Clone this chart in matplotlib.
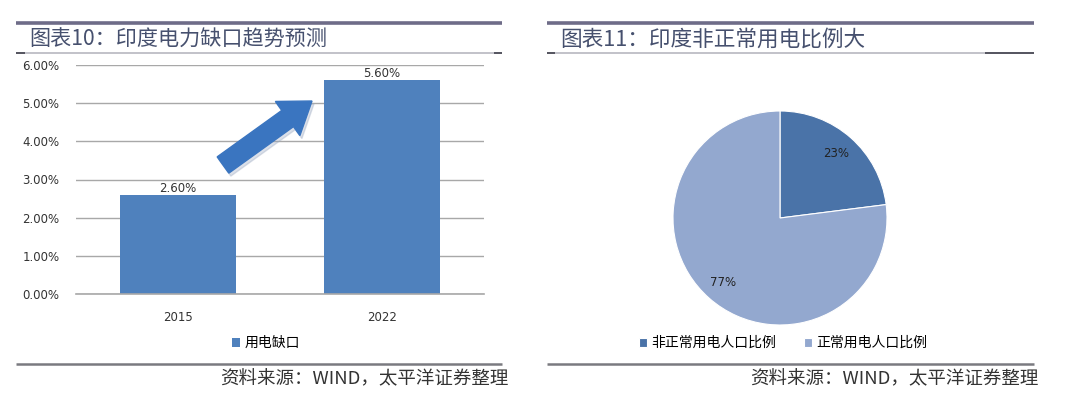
import matplotlib
matplotlib.use("Agg")
import matplotlib.pyplot as plt
from matplotlib.lines import Line2D
from matplotlib.patches import FancyArrow
from matplotlib.transforms import IdentityTransform

plt.rcParams['font.family'] = ['Noto Sans CJK SC', 'DejaVu Sans']

# ---- data ----
bar_categories = ["2015", "2022"]
bar_values = [2.60, 5.60]
bar_series_name = "用电缺口"
y_ticks = [0, 1, 2, 3, 4, 5, 6]

pie_labels = ["非正常用电人口比例", "正常用电人口比例"]
pie_values = [23, 77]

title_left = "图表10：印度电力缺口趋势预测"
title_right = "图表11：印度非正常用电比例大"
source_text = "资料来源：WIND，太平洋证券整理"

W, H = 1080, 398
fig = plt.figure(figsize=(W / 100, H / 100), dpi=100)
fig.patch.set_facecolor("white")

def fx(px):
    return px / W

def fy(py):
    return 1 - py / H

def hline(x0, x1, y, color, lw):
    fig.add_artist(Line2D([fx(x0), fx(x1)], [fy(y), fy(y)], color=color, lw=lw,
                          transform=fig.transFigure, solid_capstyle="butt"))

# ---- frame lines ----
for (x0, x1) in [(16, 502), (547, 1034)]:
    hline(x0, x1, 23, "#6e6c88", 2.6)
    hline(x0, x1, 53, "#b8b8c0", 1.2)
    hline(x0, x1, 364, "#7a7a80", 1.8)
hline(16, 25, 53, "#555560", 1.4)
hline(494, 502, 53, "#555560", 1.4)
hline(547, 555, 53, "#555560", 1.4)
hline(985, 1034, 53, "#555560", 1.4)

title_color = "#46506e"
fig.text(fx(29), fy(40), title_left, fontsize=15.2, color=title_color, va="center", ha="left")
fig.text(fx(560), fy(40), title_right, fontsize=15.6, color=title_color, va="center", ha="left")
fig.text(fx(508), fy(379), source_text, fontsize=13.3, color="#333333", va="center", ha="right",
         style="italic")
fig.text(fx(1038), fy(379), source_text, fontsize=13.3, color="#333333", va="center", ha="right",
         style="italic")

# ---- bar chart ----
ax = fig.add_axes([fx(76), fy(294), fx(484) - fx(76), fy(65) - fy(294)])
x = list(range(len(bar_categories)))
bars = ax.bar(x, bar_values, width=0.57, color="#4f81bd", zorder=3, label=bar_series_name)
ax.set_xlim(-0.5, 1.5)
ax.set_ylim(0, 6)
ax.set_yticks(y_ticks)
ax.set_yticklabels([f"{v:.2f}%" for v in y_ticks], fontsize=8.5, color="#333333",
                   family=["DejaVu Sans"])
ax.set_xticks(x)
ax.set_xticklabels(bar_categories, fontsize=8.5, color="#333333", family=["DejaVu Sans"])
ax.tick_params(axis="y", length=0, pad=12)
ax.tick_params(axis="x", length=0, pad=12)
ax.yaxis.grid(True, color="#a8a8a8", lw=1.0, zorder=0)
ax.axhline(0, color="#a8a8a8", lw=1.2, zorder=4, clip_on=False)
for s in ax.spines.values():
    s.set_visible(False)
for rect, v in zip(bars, bar_values):
    ax.text(rect.get_x() + rect.get_width() / 2, v, f"{v:.2f}%", ha="center", va="bottom",
            fontsize=8.5, color="#333333", family=["DejaVu Sans"])
leg = ax.legend(loc="center", bbox_to_anchor=(0.465, (fy(343) - fy(294)) / (fy(65) - fy(294))),
                frameon=False, fontsize=10, handlelength=0.6, handleheight=0.6,
                handletextpad=0.3)

# arrow (decoration) in pixel coordinates
x0p, y0p = 223, H - 165
x1p, y1p = 312, H - 101
dx, dy = x1p - x0p, y1p - y0p
fig.patches.append(FancyArrow(x0p + 2, y0p - 3, dx, dy, width=20, head_width=42, head_length=30,
                              length_includes_head=True, color="#9aa8c0", alpha=0.35,
                              transform=IdentityTransform(), figure=fig, zorder=4))
fig.patches.append(FancyArrow(x0p, y0p, dx, dy, width=20, head_width=42, head_length=30,
                              length_includes_head=True, color="#3a75c0",
                              transform=IdentityTransform(), figure=fig, zorder=5))

# ---- pie chart ----
r = 107
cx, cy = 780, 218
pax = fig.add_axes([fx(cx - r), fy(cy + r), fx(2 * r), (2 * r) / H])
wedges, texts, autotexts = pax.pie(pie_values, colors=["#4a73a8", "#93a8cf"], startangle=90,
                                   counterclock=False, autopct="%d%%", pctdistance=0.8,
                                   radius=1.0, wedgeprops=dict(linewidth=0.8, edgecolor="white"),
                                   textprops=dict(fontsize=8.5, color="#222222",
                                                  family=["DejaVu Sans"]))
pax.set_xlim(-1, 1)
pax.set_ylim(-1, 1)
pax.set_aspect("equal")

lax = fig.add_axes([fx(560), fy(360), fx(1030) - fx(560), fy(326) - fy(360)])
lax.axis("off")
lax.legend(wedges, pie_labels, loc="center", ncol=2, frameon=False, fontsize=10,
           handlelength=0.6, handleheight=0.6, handletextpad=0.3, columnspacing=2.0,
           bbox_to_anchor=(0.475, 0.5))

fig.savefig("out.png", dpi=100, facecolor="white")
